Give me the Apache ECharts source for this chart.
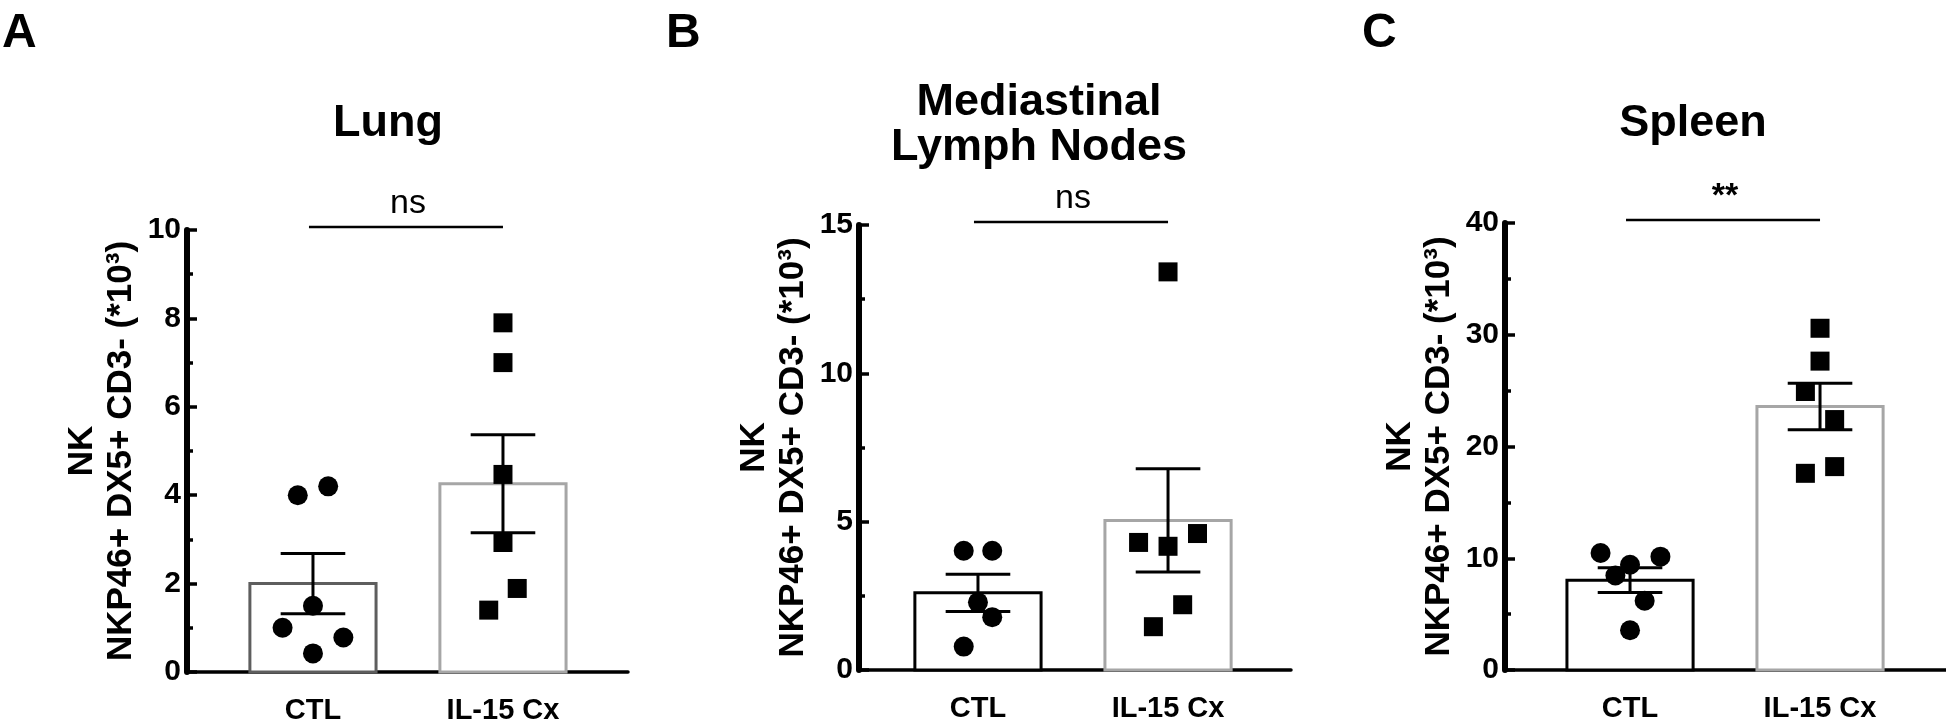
<!DOCTYPE html>
<html><head><meta charset="utf-8">
<script src="https://cdn.jsdelivr.net/npm/echarts@6/dist/echarts.min.js"></script>
<style>html,body{margin:0;padding:0;background:#fff}#c{width:1946px;height:723px}</style>
</head><body><div id="c"></div>
<script>
// ---------- data ----------
const categories = ['CTL', 'IL-15 Cx'];
const panelLetters = ['A', 'B', 'C'];
const panelTitles = ['Lung', 'Mediastinal\nLymph Nodes', 'Spleen'];
const yAxisName = 'NK\nNKP46+ DX5+ CD3- (*10³)';
const significance = ['ns', 'ns', '**'];
const yMax = [10, 15, 40];
const yInterval = [2, 5, 10];

const lungCTL = [4.0, 4.2, 1.5, 1.0, 0.78, 0.42];
const lungIL = [7.9, 7.0, 4.47, 2.93, 1.89, 1.40];
const lungMean = [2.0, 4.26];
const lungSEM = [0.68, 1.11];

const mlnCTL = [4.02, 4.02, 2.28, 1.78, 0.79];
const mlnIL = [13.42, 4.30, 4.17, 4.6, 2.2, 1.46];
const mlnMean = [2.6, 5.04];
const mlnSEM = [0.63, 1.74];

const spleenCTL = [10.47, 10.14, 9.42, 8.46, 6.2, 3.56];
const spleenIL = [30.58, 27.64, 24.92, 22.41, 17.6, 18.2];
const spleenMean = [8.04, 23.58];
const spleenSEM = [1.1, 2.08];

// horizontal scatter offsets of the dots (category units)
const lungCTLJitter = [-0.08, 0.08, 0, -0.16, 0.16, 0];
const lungILJitter = [0, 0, 0, 0, 0.075, -0.075];
const mlnCTLJitter = [-0.075, 0.075, 0, 0.075, -0.075];
const mlnILJitter = [0, -0.155, 0, 0.155, 0.077, -0.077];
const spleenCTLJitter = [-0.155, 0.16, 0, -0.077, 0.077, 0];
const spleenILJitter = [0, 0, -0.077, 0.077, -0.077, 0.077];

// ---------- layout / style ----------
const FONT = '"Liberation Sans", Arial, Helvetica, sans-serif';
const grids = [
  { left: 187, top: 230, width: 441, height: 442, outerBoundsMode: 'none', containLabel: false },
  { left: 859, top: 225, width: 432, height: 445, outerBoundsMode: 'none', containLabel: false },
  { left: 1505, top: 223, width: 441, height: 447, outerBoundsMode: 'none', containLabel: false }
];
const xRanges = [[-0.663, 1.658], [-0.626, 1.647], [-0.658, 1.663]];
const barStroke = [['#5e5e5e', '#a6a6a6'], ['#000', '#a6a6a6'], ['#000', '#a6a6a6']];
const titlePos = [[388, 124], [1039, 125], [1693, 124]];
const letterPos = [[2, 10], [666, 10], [1362, 10]];

const panels = [
  { ctl: lungCTL, il: lungIL, mean: lungMean, sem: lungSEM, cj: lungCTLJitter, ij: lungILJitter },
  { ctl: mlnCTL, il: mlnIL, mean: mlnMean, sem: mlnSEM, cj: mlnCTLJitter, ij: mlnILJitter },
  { ctl: spleenCTL, il: spleenIL, mean: spleenMean, sem: spleenSEM, cj: spleenCTLJitter, ij: spleenILJitter }
];

const HALF_BAR = 0.332, HALF_CAP = 0.17;

const xAxes = [], yAxes = [], series = [];
panels.forEach((p, i) => {
  xAxes.push({
    gridIndex: i, type: 'value', min: xRanges[i][0], max: xRanges[i][1],
    axisLine: { show: true, onZero: false, lineStyle: { color: '#000', width: 3.5 } },
    axisTick: { show: true, inside: true, length: 9, customValues: [0, 1], lineStyle: { color: '#000', width: 3 } },
    axisLabel: {
      show: true, customValues: [0, 1], formatter: v => categories[Math.round(v)],
      color: '#000', fontSize: 29, fontWeight: 'bold', fontFamily: FONT, margin: 24
    },
    splitLine: { show: false }
  });
  yAxes.push({
    gridIndex: i, type: 'value', min: 0, max: yMax[i], interval: yInterval[i],
    axisLine: { show: true, onZero: false, lineStyle: { color: '#000', width: 6 } },
    axisTick: { show: true, inside: true, length: 10, lineStyle: { color: '#000', width: 3.5 } },
    minorTick: { show: true, splitNumber: 2, length: 6, lineStyle: { color: '#000', width: 3.5 } },
    axisLabel: { color: '#000', fontSize: 30, fontWeight: 'bold', fontFamily: FONT, margin: 6 },
    splitLine: { show: false },
    name: yAxisName, nameLocation: 'middle', nameGap: 46,
    nameTextStyle: { color: '#000', fontSize: 35, fontWeight: 'bold', fontFamily: FONT, lineHeight: 39 }
  });
  // bars
  series.push({
    type: 'custom', xAxisIndex: i, yAxisIndex: i, z: 2, clip: false,
    data: p.mean.map((m, j) => [j, m]),
    renderItem: (params, api) => {
      const x = api.value(0), y = api.value(1);
      const a = api.coord([x - HALF_BAR, y]), b = api.coord([x + HALF_BAR, 0]);
      return { type: 'rect', shape: { x: a[0], y: a[1], width: b[0] - a[0], height: b[1] - a[1] },
        style: { fill: '#fff', stroke: barStroke[i][params.dataIndex], lineWidth: 3 } };
    }
  });
  // scatter points
  series.push({
    type: 'scatter', xAxisIndex: i, yAxisIndex: i, z: 3, symbol: 'circle', symbolSize: 20,
    itemStyle: { color: '#000', opacity: 1 },
    data: p.ctl.map((v, k) => [0 + p.cj[k], v])
  });
  series.push({
    type: 'scatter', xAxisIndex: i, yAxisIndex: i, z: 3, symbol: 'rect', symbolSize: 19,
    itemStyle: { color: '#000', opacity: 1 },
    data: p.il.map((v, k) => [1 + p.ij[k], v])
  });
  // error bars (mean ± SEM)
  series.push({
    type: 'custom', xAxisIndex: i, yAxisIndex: i, z: 4, clip: false,
    data: p.mean.map((m, j) => [j, m - p.sem[j], m + p.sem[j]]),
    renderItem: (params, api) => {
      const x = api.value(0), lo = api.value(1), hi = api.value(2);
      const t = api.coord([x, hi]), bt = api.coord([x, lo]);
      const tl = api.coord([x - HALF_CAP, hi]), tr = api.coord([x + HALF_CAP, hi]);
      const bl = api.coord([x - HALF_CAP, lo]), br = api.coord([x + HALF_CAP, lo]);
      const st = { stroke: '#000', lineWidth: 3 };
      return { type: 'group', children: [
        { type: 'line', shape: { x1: t[0], y1: t[1], x2: bt[0], y2: bt[1] }, style: st },
        { type: 'line', shape: { x1: tl[0], y1: tl[1], x2: tr[0], y2: tr[1] }, style: st },
        { type: 'line', shape: { x1: bl[0], y1: bl[1], x2: br[0], y2: br[1] }, style: st }
      ] };
    }
  });
  // significance bracket
  series.push({
    type: 'custom', xAxisIndex: i, yAxisIndex: i, z: 4, clip: false,
    data: [[0, 1, yMax[i]]],
    renderItem: (params, api) => {
      const a = api.coord([api.value(0), api.value(2)]), b = api.coord([api.value(1), api.value(2)]);
      return { type: 'group', children: [
        { type: 'line', shape: { x1: a[0] - 4, y1: a[1] - 3, x2: b[0], y2: b[1] - 3 }, style: { stroke: '#000', lineWidth: 2.5 } },
        { type: 'text', x: (a[0] + b[0]) / 2, y: a[1] - 9,
          style: { text: significance[i], fill: '#000', fontSize: 34, fontFamily: FONT,
            fontWeight: significance[i] === 'ns' ? 'normal' : 'bold', align: 'center', verticalAlign: 'bottom' } }
      ] };
    }
  });
});

const graphic = [];
panelLetters.forEach((l, i) => {
  graphic.push({ type: 'text', x: letterPos[i][0], y: letterPos[i][1],
    style: { text: l, fill: '#000', fontSize: 48, fontWeight: 'bold', fontFamily: FONT } });
  graphic.push({ type: 'text', x: titlePos[i][0], y: titlePos[i][1],
    style: { text: panelTitles[i], fill: '#000', fontSize: 45, fontWeight: 'bold', fontFamily: FONT,
      lineHeight: 45, align: 'center', verticalAlign: 'middle' } });
});

const chart = echarts.init(document.getElementById('c'), null, { renderer: 'canvas' });
chart.setOption({
  backgroundColor: '#fff',
  animation: false,
  grid: grids,
  xAxis: xAxes,
  yAxis: yAxes,
  series: series,
  graphic: graphic
});
</script></body></html>
